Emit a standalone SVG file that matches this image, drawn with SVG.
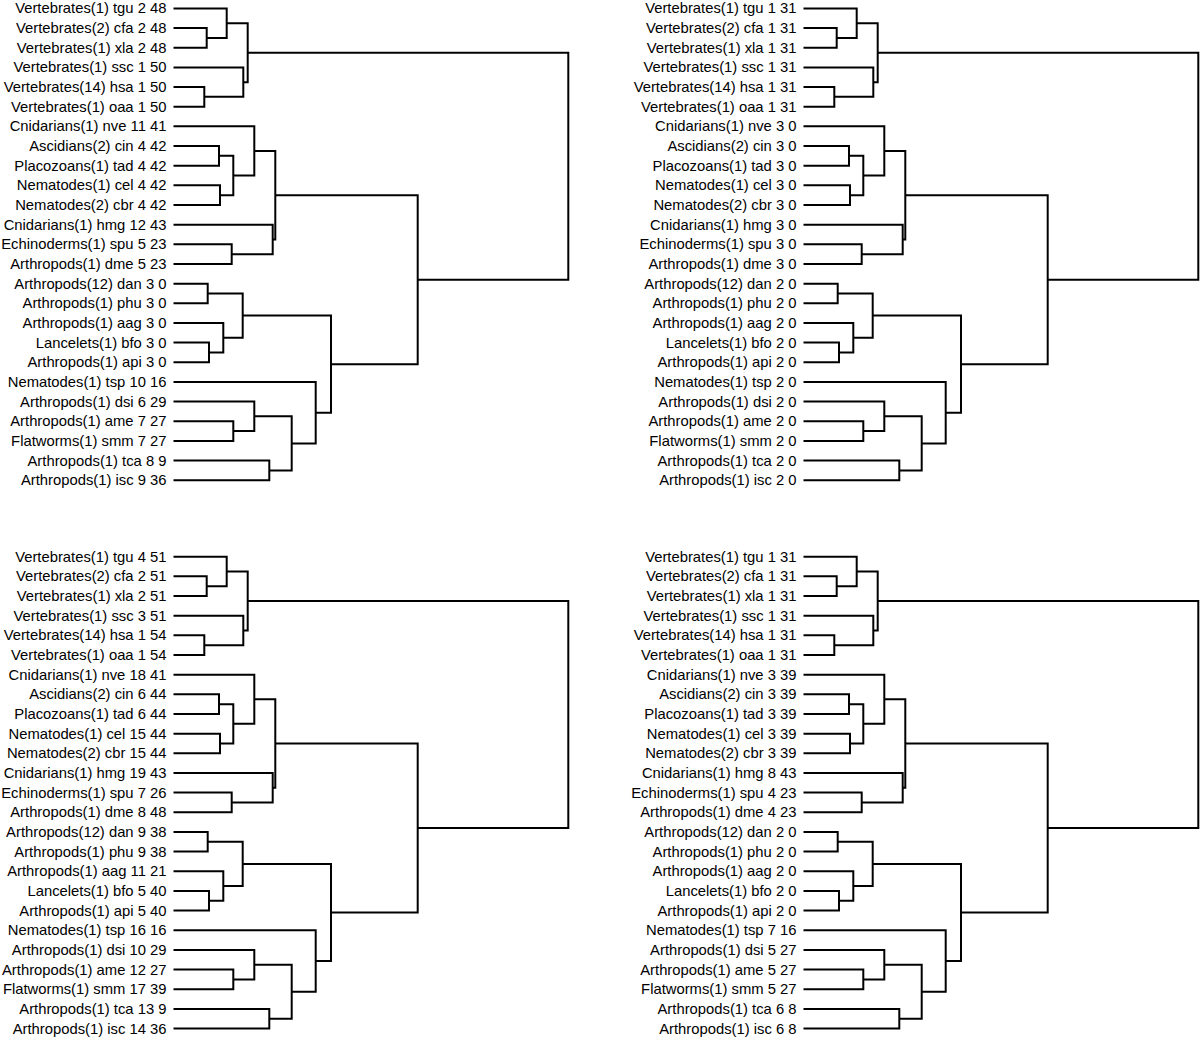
<svg xmlns="http://www.w3.org/2000/svg" xmlns:xlink="http://www.w3.org/1999/xlink" width="1200" height="1037" viewBox="0 0 1200 1037">
<style>
.lbl{font-family:"Liberation Sans",Arial,Helvetica,sans-serif;font-size:14.8px;fill:#000;text-anchor:end}
.tree{fill:none;stroke:#000;stroke-width:2;stroke-linecap:square;stroke-linejoin:miter}
</style>
<defs>
<path id="dendro" class="tree" d="M174.5 28.06H206.7V47.72H174.5 M174.5 8.4H226.7V37.89H206.7 M174.5 87.04H204.3V106.7H174.5 M174.5 67.38H243.3V96.87H204.3 M226.7 23.15H247.7V82.13H243.3 M174.5 146.02H219V165.68H174.5 M174.5 185.34H220V205H174.5 M219 155.85H233.3V195.17H220 M174.5 126.36H254.3V175.51H233.3 M174.5 244.32H231.7V263.98H174.5 M174.5 224.66H272.7V254.15H231.7 M254.3 150.94H275.3V239.4H272.7 M174.5 283.64H207.7V303.3H174.5 M174.5 342.62H209V362.28H174.5 M174.5 322.96H223.3V352.45H209 M207.7 293.47H242.7V337.7H223.3 M174.5 421.26H233.3V440.92H174.5 M174.5 401.6H254.3V431.09H233.3 M174.5 460.58H269.3V480.24H174.5 M254.3 416.35H291.7V470.41H269.3 M174.5 381.94H315.7V443.38H291.7 M242.7 315.59H331V412.66H315.7 M275.3 195.17H417.7V364.13H331 M247.7 52.64H568.3V279.65H417.7"/>
</defs>
<rect width="1200" height="1037" fill="#fff"/>
<g id="connectors">
<use xlink:href="#dendro" href="#dendro"/>
<use xlink:href="#dendro" href="#dendro" transform="translate(630,0)"/>
<use xlink:href="#dendro" href="#dendro" transform="translate(0,548.3)"/>
<use xlink:href="#dendro" href="#dendro" transform="translate(630,548.3)"/>
</g>
<g id="panel-tl" class="lbl">
<g id="tl-tgu"><text x="166.5" y="13.4">Vertebrates(1) tgu 2 48</text></g>
<g id="tl-cfa"><text x="166.5" y="33.06">Vertebrates(2) cfa 2 48</text></g>
<g id="tl-xla"><text x="166.5" y="52.72">Vertebrates(1) xla 2 48</text></g>
<g id="tl-ssc"><text x="166.5" y="72.38">Vertebrates(1) ssc 1 50</text></g>
<g id="tl-hsa"><text x="166.5" y="92.04">Vertebrates(14) hsa 1 50</text></g>
<g id="tl-oaa"><text x="166.5" y="111.7">Vertebrates(1) oaa 1 50</text></g>
<g id="tl-nve"><text x="166.5" y="131.36">Cnidarians(1) nve 11 41</text></g>
<g id="tl-cin"><text x="166.5" y="151.02">Ascidians(2) cin 4 42</text></g>
<g id="tl-tad"><text x="166.5" y="170.68">Placozoans(1) tad 4 42</text></g>
<g id="tl-cel"><text x="166.5" y="190.34">Nematodes(1) cel 4 42</text></g>
<g id="tl-cbr"><text x="166.5" y="210">Nematodes(2) cbr 4 42</text></g>
<g id="tl-hmg"><text x="166.5" y="229.66">Cnidarians(1) hmg 12 43</text></g>
<g id="tl-spu"><text x="166.5" y="249.32">Echinoderms(1) spu 5 23</text></g>
<g id="tl-dme"><text x="166.5" y="268.98">Arthropods(1) dme 5 23</text></g>
<g id="tl-dan"><text x="166.5" y="288.64">Arthropods(12) dan 3 0</text></g>
<g id="tl-phu"><text x="166.5" y="308.3">Arthropods(1) phu 3 0</text></g>
<g id="tl-aag"><text x="166.5" y="327.96">Arthropods(1) aag 3 0</text></g>
<g id="tl-bfo"><text x="166.5" y="347.62">Lancelets(1) bfo 3 0</text></g>
<g id="tl-api"><text x="166.5" y="367.28">Arthropods(1) api 3 0</text></g>
<g id="tl-tsp"><text x="166.5" y="386.94">Nematodes(1) tsp 10 16</text></g>
<g id="tl-dsi"><text x="166.5" y="406.6">Arthropods(1) dsi 6 29</text></g>
<g id="tl-ame"><text x="166.5" y="426.26">Arthropods(1) ame 7 27</text></g>
<g id="tl-smm"><text x="166.5" y="445.92">Flatworms(1) smm 7 27</text></g>
<g id="tl-tca"><text x="166.5" y="465.58">Arthropods(1) tca 8 9</text></g>
<g id="tl-isc"><text x="166.5" y="485.24">Arthropods(1) isc 9 36</text></g>
</g>
<g id="panel-tr" class="lbl" transform="translate(630,0)">
<g id="tr-tgu"><text x="166.5" y="13.4">Vertebrates(1) tgu 1 31</text></g>
<g id="tr-cfa"><text x="166.5" y="33.06">Vertebrates(2) cfa 1 31</text></g>
<g id="tr-xla"><text x="166.5" y="52.72">Vertebrates(1) xla 1 31</text></g>
<g id="tr-ssc"><text x="166.5" y="72.38">Vertebrates(1) ssc 1 31</text></g>
<g id="tr-hsa"><text x="166.5" y="92.04">Vertebrates(14) hsa 1 31</text></g>
<g id="tr-oaa"><text x="166.5" y="111.7">Vertebrates(1) oaa 1 31</text></g>
<g id="tr-nve"><text x="166.5" y="131.36">Cnidarians(1) nve 3 0</text></g>
<g id="tr-cin"><text x="166.5" y="151.02">Ascidians(2) cin 3 0</text></g>
<g id="tr-tad"><text x="166.5" y="170.68">Placozoans(1) tad 3 0</text></g>
<g id="tr-cel"><text x="166.5" y="190.34">Nematodes(1) cel 3 0</text></g>
<g id="tr-cbr"><text x="166.5" y="210">Nematodes(2) cbr 3 0</text></g>
<g id="tr-hmg"><text x="166.5" y="229.66">Cnidarians(1) hmg 3 0</text></g>
<g id="tr-spu"><text x="166.5" y="249.32">Echinoderms(1) spu 3 0</text></g>
<g id="tr-dme"><text x="166.5" y="268.98">Arthropods(1) dme 3 0</text></g>
<g id="tr-dan"><text x="166.5" y="288.64">Arthropods(12) dan 2 0</text></g>
<g id="tr-phu"><text x="166.5" y="308.3">Arthropods(1) phu 2 0</text></g>
<g id="tr-aag"><text x="166.5" y="327.96">Arthropods(1) aag 2 0</text></g>
<g id="tr-bfo"><text x="166.5" y="347.62">Lancelets(1) bfo 2 0</text></g>
<g id="tr-api"><text x="166.5" y="367.28">Arthropods(1) api 2 0</text></g>
<g id="tr-tsp"><text x="166.5" y="386.94">Nematodes(1) tsp 2 0</text></g>
<g id="tr-dsi"><text x="166.5" y="406.6">Arthropods(1) dsi 2 0</text></g>
<g id="tr-ame"><text x="166.5" y="426.26">Arthropods(1) ame 2 0</text></g>
<g id="tr-smm"><text x="166.5" y="445.92">Flatworms(1) smm 2 0</text></g>
<g id="tr-tca"><text x="166.5" y="465.58">Arthropods(1) tca 2 0</text></g>
<g id="tr-isc"><text x="166.5" y="485.24">Arthropods(1) isc 2 0</text></g>
</g>
<g id="panel-bl" class="lbl" transform="translate(0,548.3)">
<g id="bl-tgu"><text x="166.5" y="13.4">Vertebrates(1) tgu 4 51</text></g>
<g id="bl-cfa"><text x="166.5" y="33.06">Vertebrates(2) cfa 2 51</text></g>
<g id="bl-xla"><text x="166.5" y="52.72">Vertebrates(1) xla 2 51</text></g>
<g id="bl-ssc"><text x="166.5" y="72.38">Vertebrates(1) ssc 3 51</text></g>
<g id="bl-hsa"><text x="166.5" y="92.04">Vertebrates(14) hsa 1 54</text></g>
<g id="bl-oaa"><text x="166.5" y="111.7">Vertebrates(1) oaa 1 54</text></g>
<g id="bl-nve"><text x="166.5" y="131.36">Cnidarians(1) nve 18 41</text></g>
<g id="bl-cin"><text x="166.5" y="151.02">Ascidians(2) cin 6 44</text></g>
<g id="bl-tad"><text x="166.5" y="170.68">Placozoans(1) tad 6 44</text></g>
<g id="bl-cel"><text x="166.5" y="190.34">Nematodes(1) cel 15 44</text></g>
<g id="bl-cbr"><text x="166.5" y="210">Nematodes(2) cbr 15 44</text></g>
<g id="bl-hmg"><text x="166.5" y="229.66">Cnidarians(1) hmg 19 43</text></g>
<g id="bl-spu"><text x="166.5" y="249.32">Echinoderms(1) spu 7 26</text></g>
<g id="bl-dme"><text x="166.5" y="268.98">Arthropods(1) dme 8 48</text></g>
<g id="bl-dan"><text x="166.5" y="288.64">Arthropods(12) dan 9 38</text></g>
<g id="bl-phu"><text x="166.5" y="308.3">Arthropods(1) phu 9 38</text></g>
<g id="bl-aag"><text x="166.5" y="327.96">Arthropods(1) aag 11 21</text></g>
<g id="bl-bfo"><text x="166.5" y="347.62">Lancelets(1) bfo 5 40</text></g>
<g id="bl-api"><text x="166.5" y="367.28">Arthropods(1) api 5 40</text></g>
<g id="bl-tsp"><text x="166.5" y="386.94">Nematodes(1) tsp 16 16</text></g>
<g id="bl-dsi"><text x="166.5" y="406.6">Arthropods(1) dsi 10 29</text></g>
<g id="bl-ame"><text x="166.5" y="426.26">Arthropods(1) ame 12 27</text></g>
<g id="bl-smm"><text x="166.5" y="445.92">Flatworms(1) smm 17 39</text></g>
<g id="bl-tca"><text x="166.5" y="465.58">Arthropods(1) tca 13 9</text></g>
<g id="bl-isc"><text x="166.5" y="485.24">Arthropods(1) isc 14 36</text></g>
</g>
<g id="panel-br" class="lbl" transform="translate(630,548.3)">
<g id="br-tgu"><text x="166.5" y="13.4">Vertebrates(1) tgu 1 31</text></g>
<g id="br-cfa"><text x="166.5" y="33.06">Vertebrates(2) cfa 1 31</text></g>
<g id="br-xla"><text x="166.5" y="52.72">Vertebrates(1) xla 1 31</text></g>
<g id="br-ssc"><text x="166.5" y="72.38">Vertebrates(1) ssc 1 31</text></g>
<g id="br-hsa"><text x="166.5" y="92.04">Vertebrates(14) hsa 1 31</text></g>
<g id="br-oaa"><text x="166.5" y="111.7">Vertebrates(1) oaa 1 31</text></g>
<g id="br-nve"><text x="166.5" y="131.36">Cnidarians(1) nve 3 39</text></g>
<g id="br-cin"><text x="166.5" y="151.02">Ascidians(2) cin 3 39</text></g>
<g id="br-tad"><text x="166.5" y="170.68">Placozoans(1) tad 3 39</text></g>
<g id="br-cel"><text x="166.5" y="190.34">Nematodes(1) cel 3 39</text></g>
<g id="br-cbr"><text x="166.5" y="210">Nematodes(2) cbr 3 39</text></g>
<g id="br-hmg"><text x="166.5" y="229.66">Cnidarians(1) hmg 8 43</text></g>
<g id="br-spu"><text x="166.5" y="249.32">Echinoderms(1) spu 4 23</text></g>
<g id="br-dme"><text x="166.5" y="268.98">Arthropods(1) dme 4 23</text></g>
<g id="br-dan"><text x="166.5" y="288.64">Arthropods(12) dan 2 0</text></g>
<g id="br-phu"><text x="166.5" y="308.3">Arthropods(1) phu 2 0</text></g>
<g id="br-aag"><text x="166.5" y="327.96">Arthropods(1) aag 2 0</text></g>
<g id="br-bfo"><text x="166.5" y="347.62">Lancelets(1) bfo 2 0</text></g>
<g id="br-api"><text x="166.5" y="367.28">Arthropods(1) api 2 0</text></g>
<g id="br-tsp"><text x="166.5" y="386.94">Nematodes(1) tsp 7 16</text></g>
<g id="br-dsi"><text x="166.5" y="406.6">Arthropods(1) dsi 5 27</text></g>
<g id="br-ame"><text x="166.5" y="426.26">Arthropods(1) ame 5 27</text></g>
<g id="br-smm"><text x="166.5" y="445.92">Flatworms(1) smm 5 27</text></g>
<g id="br-tca"><text x="166.5" y="465.58">Arthropods(1) tca 6 8</text></g>
<g id="br-isc"><text x="166.5" y="485.24">Arthropods(1) isc 6 8</text></g>
</g>
</svg>
